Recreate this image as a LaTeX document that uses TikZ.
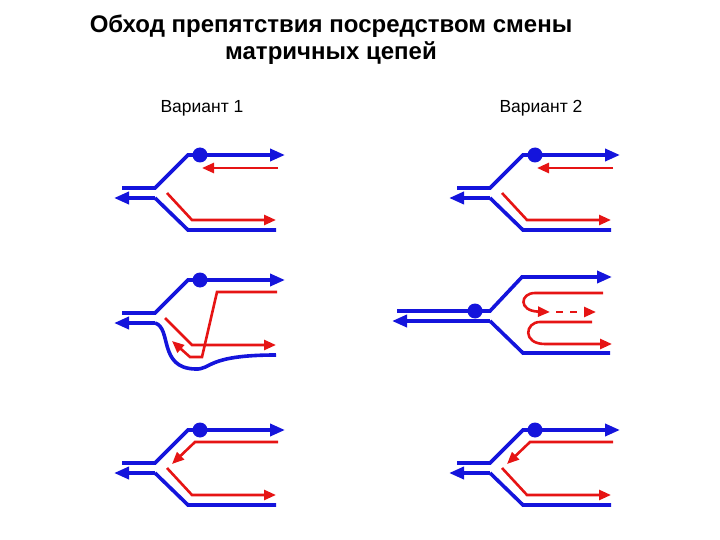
\documentclass[tikz,border=0pt]{standalone}
\usepackage{fontspec}
\setmainfont{Liberation Sans}
\usetikzlibrary{arrows.meta}
\definecolor{bl}{RGB}{20,20,220}
\definecolor{rd}{RGB}{230,20,20}
\begin{document}
\begin{tikzpicture}[x=1pt,y=-1pt,
  bline/.style={draw=bl,line width=3.6pt},
  rline/.style={draw=rd,line width=2.6pt},
  arr/.style={-{Triangle[length=15pt,width=12pt]}},
  rarr/.style={-{Triangle[length=12pt,width=10pt]}},
  dot/.style={circle,fill=bl,inner sep=0pt,minimum size=15pt}]
\useasboundingbox (0,0) rectangle (720,540);
\node[font=\bfseries\fontsize{24}{27}\selectfont,align=center] (title) at (331,40) {Обход препятствия посредством смены\\матричных цепей};
\node[font=\fontsize{17.5}{20}\selectfont] (v1) at (202,108) {Вариант 1};
\node[font=\fontsize{17.5}{20}\selectfont] (v2) at (541,108) {Вариант 2};
% standard panels
\foreach \dx/\dy/\kind in {0/0/a,335/0/a,0/275/b,335/275/b}{
\begin{scope}[shift={(\dx,\dy)}]
\draw[bline,arr] (122,188) -- (155,188) -- (188,155) -- (285,155);
\node[dot] at (200,155) {};
\draw[bline,arr] (155,198) -- (114,198);
\draw[bline] (155,198) -- (188,230) -- (276,230);
\draw[rline,rarr] (167,193) -- (192,220) -- (276,220);
\if a\kind
\draw[rline,rarr] (278,168) -- (202,168);
\else
\draw[rline,rarr] (278,167) -- (195,167) -- (172,189);
\fi
\end{scope}}
% middle left
\draw[bline,arr] (122,313) -- (155,313) -- (188,280) -- (285,280);
\node[dot] at (200,280) {};
\draw[bline,arr] (155,323) -- (114,323);
\draw[bline] (155,323) .. controls (172,328) and (158,368) .. (195,369) .. controls (212,370) and (205,355) .. (276,355);
\draw[rline,rarr] (165,318) -- (192,345) -- (276,345);
\draw[rline,rarr] (277,292) -- (217,292) -- (202,357) -- (190,357) -- (172,341);
% middle right
\draw[bline,arr] (397,311) -- (490,311) -- (522,277) -- (612,277);
\node[dot] at (475,311) {};
\draw[bline,arr] (490,321) -- (392,321);
\draw[bline] (490,321) -- (523,353) -- (610,353);
\draw[rline,rarr] (603,293) -- (535,293) .. controls (520,293) and (518,311) .. (550,312);
\draw[rline,dashed,dash pattern=on 7pt off 7pt,rarr] (556,312) -- (596,312);
\draw[rline,rarr] (592,322) -- (540,322) .. controls (525,322) and (522,344) .. (545,344) -- (612,344);
\end{tikzpicture}
\end{document}
